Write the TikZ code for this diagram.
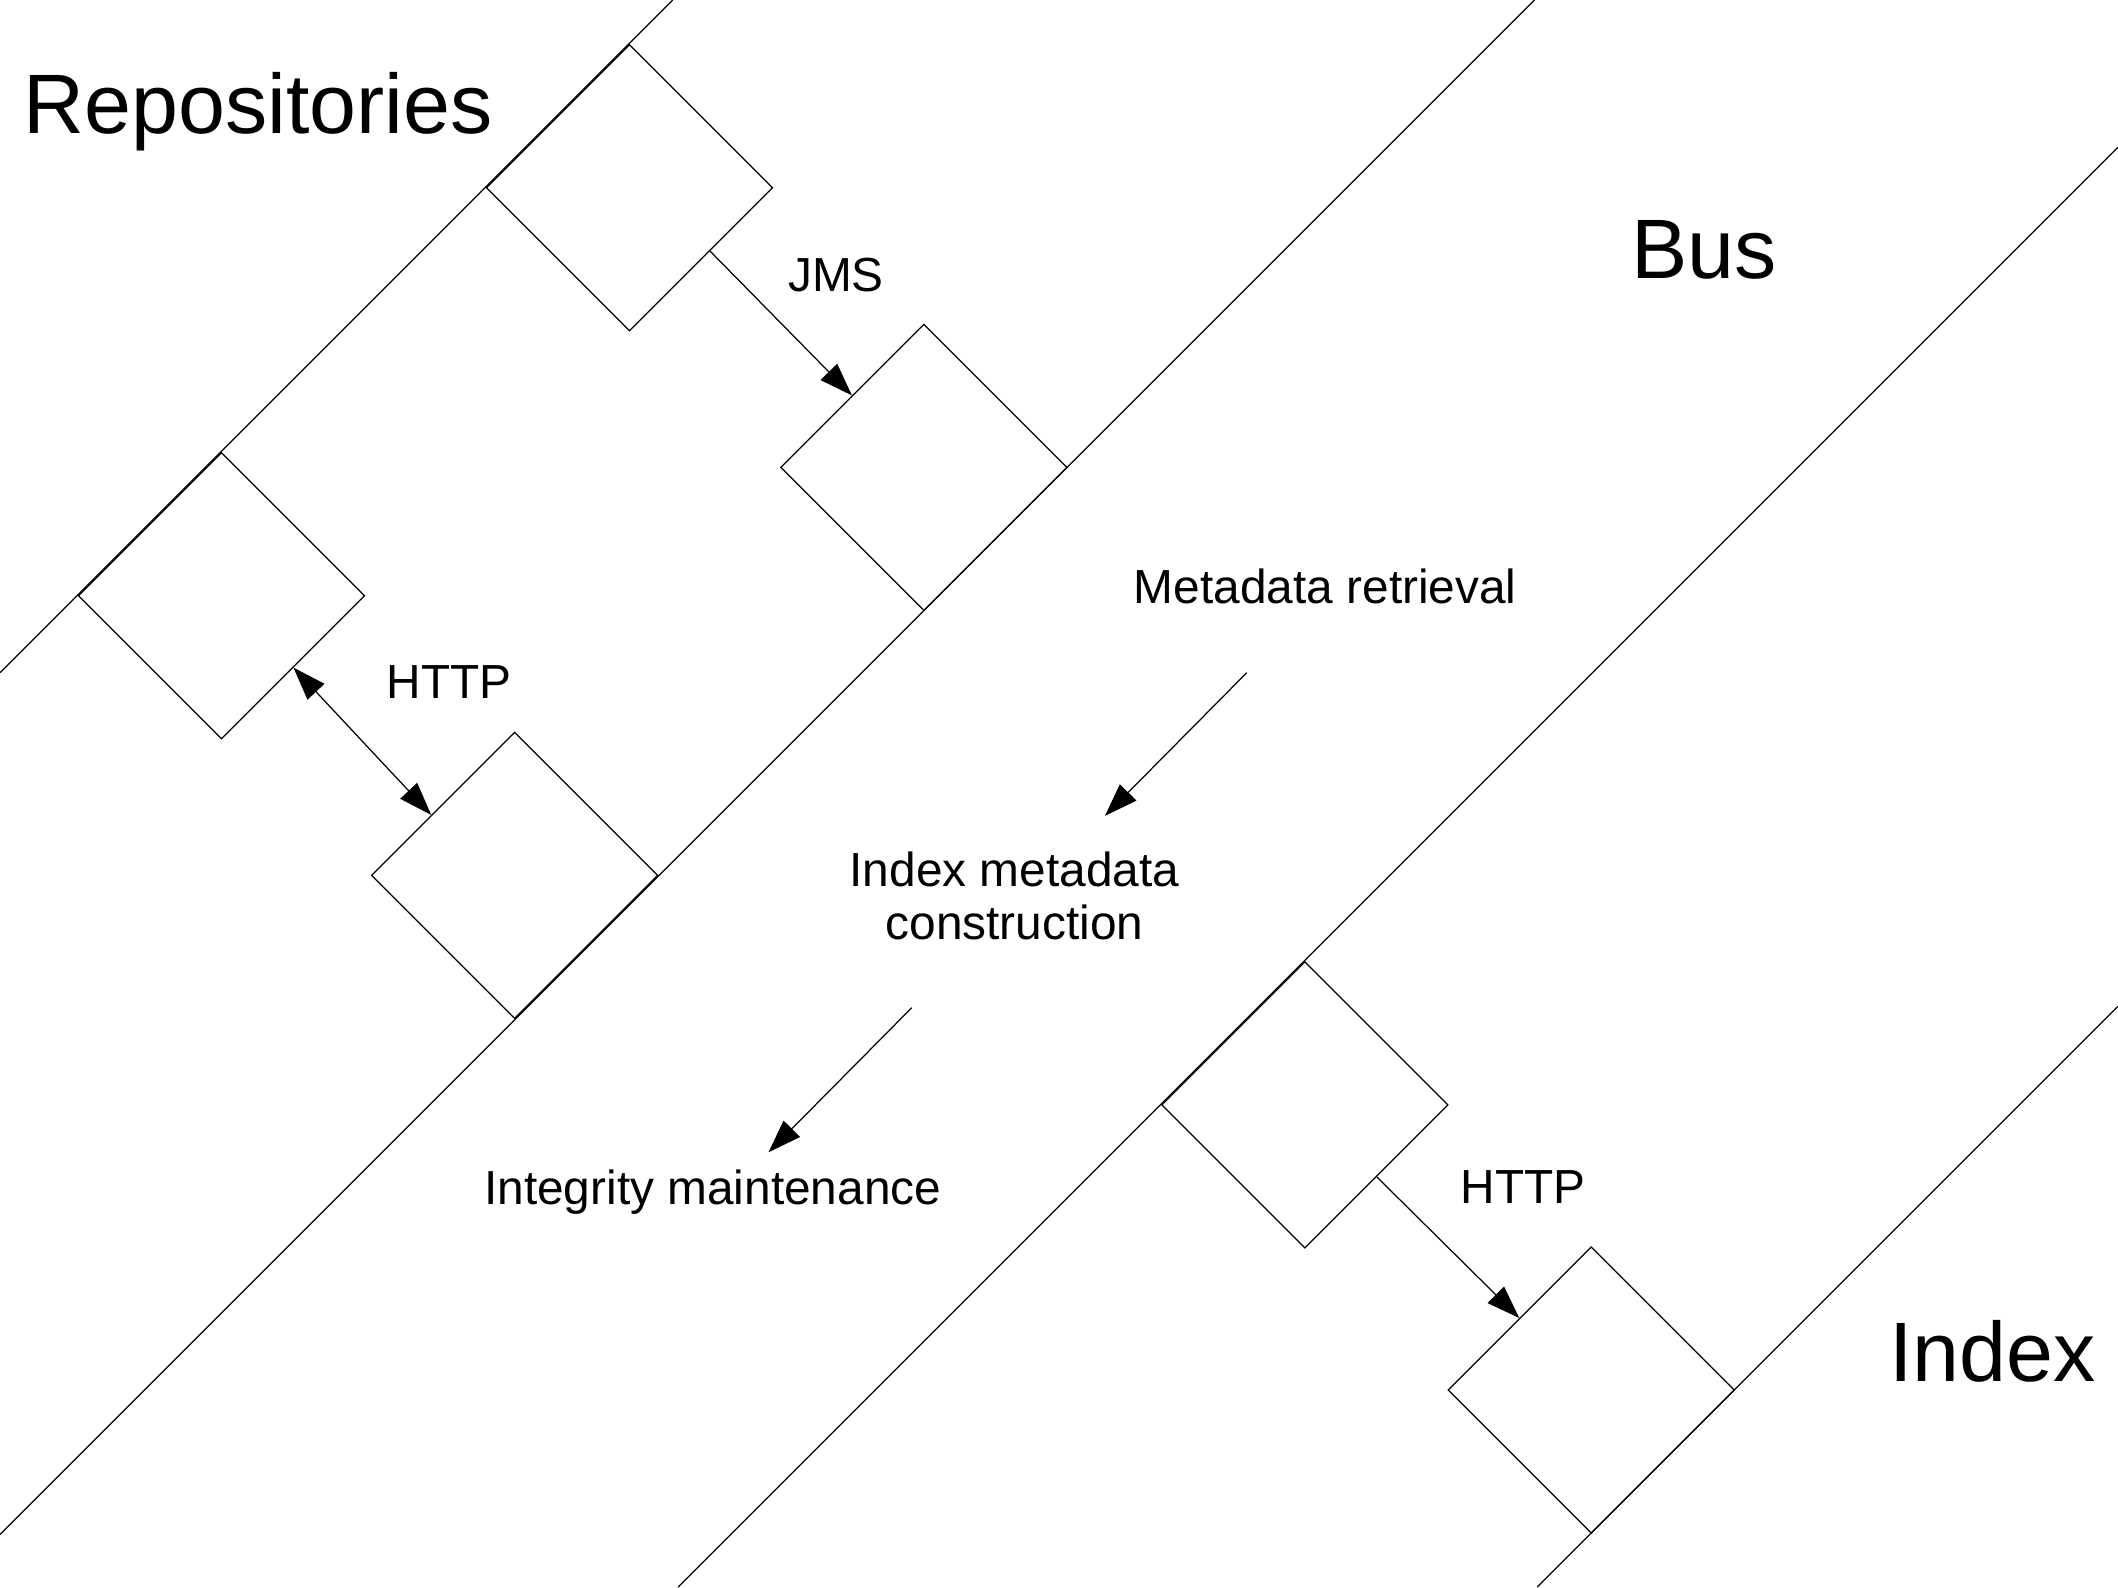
\documentclass[tikz,border=0pt]{standalone}
\usepackage{fontspec}
\setmainfont{Liberation Sans}
\usepackage{tikz}
\usetikzlibrary{shapes.geometric, arrows.meta, positioning, calc}

\begin{document}
\begin{tikzpicture}
  [
    x=0.013508cm, y=-0.013508cm, line width=0.35pt,
    Box/.style={diamond, draw=black, aspect=1, inner sep=0pt, minimum width=2.864cm, minimum height=2.864cm},
    Title/.style={anchor=base west, inner sep=0pt, font=\fontsize{24}{28}\selectfont},
    Label/.style={anchor=base west, inner sep=0pt, font=\fontsize{13.6}{15}\selectfont},
    Tip/.style={-{Triangle[length=3.3mm, width=2.3mm]}, draw},
    Both/.style={{Triangle[length=3.3mm, width=2.3mm]}-{Triangle[length=3.3mm, width=2.3mm]}, draw}
  ]
  \useasboundingbox (0,0) rectangle (1568,1175);

  % Lane borders
  \draw (0,498) -- (498,0);
  \draw (0,1136) -- (1136,0);
  \draw (502,1175) -- (1568,109);
  \draw (1138,1175) -- (1568,745);

  % Nodes (x, y)
  \node[Box] (r1) at (466,139) {};
  \node[Box] (r2) at (164,441) {};
  \node[Box] (b1) at (684,346) {};
  \node[Box] (b2) at (381,648) {};
  \node[Box] (i1) at (966,818) {};
  \node[Box] (i2) at (1178,1029) {};

  % Labels
  \node[Title] (repo) at (17,99) {Repositories};
  \node[Title] (bus) at (1207,206) {Bus};
  \node[Title] (index) at (1398,1023) {Index};
  \node[Label] (jms) at (583,216) {JMS};
  \node[Label] (http1) at (286,517) {HTTP};
  \node[Label] (http2) at (1081,891) {HTTP};
  \node[Label] (fetch) at (839,447) {Metadata retrieval};
  \node[Label, anchor=center, align=center] (build) at (751,663) {Index metadata\\construction};
  \node[Label] (keep) at (358,892) {Integrity maintenance};

  % Free ends of the step arrows
  \coordinate (fetch-out) at (923,498);
  \coordinate (build-in) at (818,604);
  \coordinate (build-out) at (675,746);
  \coordinate (keep-in) at (569,853);

  % Lines
  % JMS r1 -> b1
  \path [Tip] ($(r1.south east)!.12!(r1.east)$) -- (b1.north west);
  % HTTP r2 <-> b2
  \path [Both] (r2.south east) -- ($(b2.north west)!.16!(b2.west)$);
  % HTTP i1 -> i2
  \path [Tip] (i1.south east) -- (i2.north west);
  % retrieval -> construction
  \path [Tip] (fetch-out) -- (build-in);
  % construction -> integrity
  \path [Tip] (build-out) -- (keep-in);

\end{tikzpicture}
\end{document}
